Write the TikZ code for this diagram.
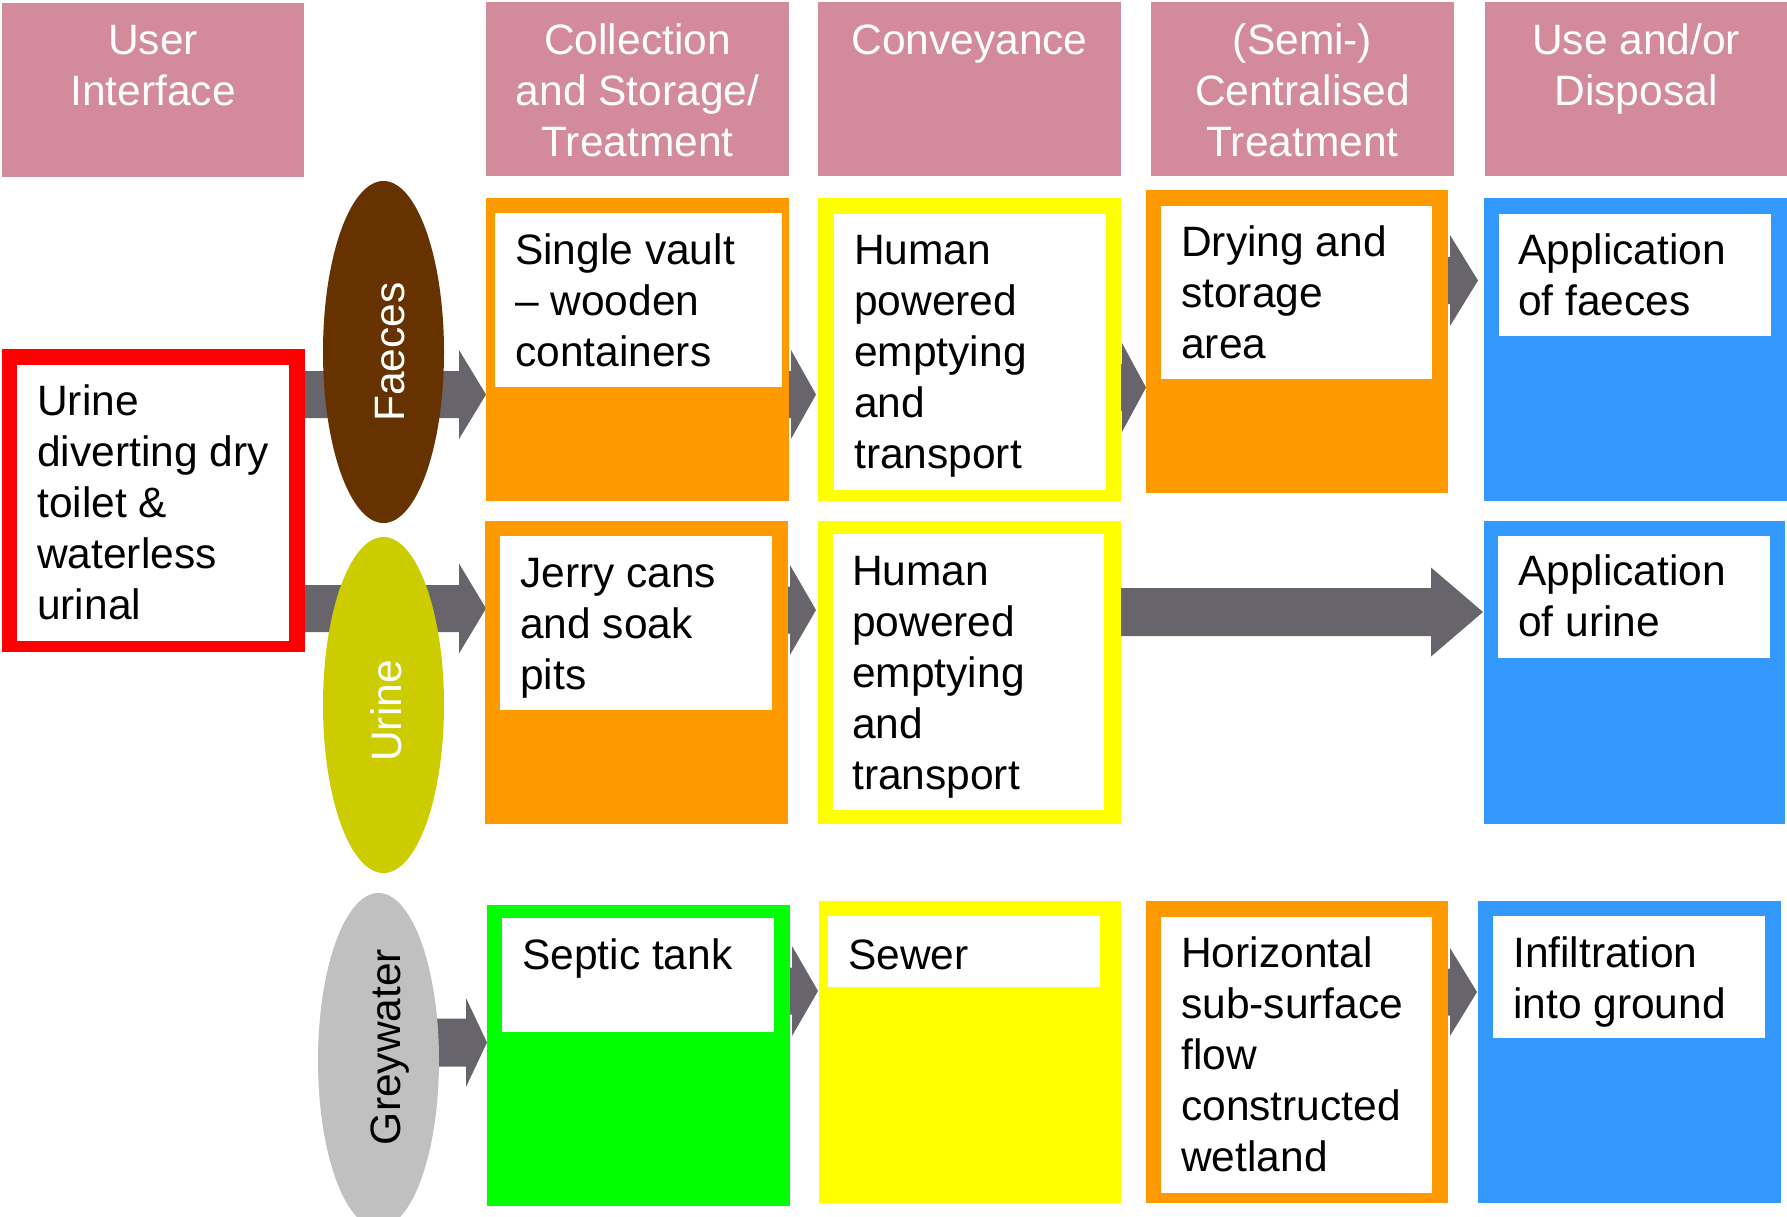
\documentclass[tikz,border=0pt]{standalone}
\usepackage{fontspec}
\setmainfont{Liberation Sans}
\usetikzlibrary{shapes.geometric}
\definecolor{hdrpink}{RGB}{211,138,155}
\definecolor{boxorange}{RGB}{255,153,0}
\definecolor{boxyellow}{RGB}{255,255,0}
\definecolor{boxblue}{RGB}{51,153,255}
\definecolor{boxgreen}{RGB}{0,255,0}
\definecolor{boxred}{RGB}{255,0,0}
\definecolor{faecesbrown}{RGB}{102,51,0}
\definecolor{urineolive}{RGB}{204,204,0}
\definecolor{greyell}{RGB}{192,192,192}
\definecolor{arrowgrey}{RGB}{103,101,107}
\newcommand\topstrut{\rule{0pt}{35pt}}
% #1 name, #2 colour, #3 x1, #4 y1, #5 x2, #6 y2
\newcommand\boxnode[6]{\node[boxbase, fill=#2, minimum width={(#5)-(#3)}, minimum height={(#6)-(#4)}] (#1) at ({((#3)+(#5))/2},{((#4)+(#6))/2}) {};}
% #1 shaft start, #2 head base, #3 tip, #4 centre y, #5 shaft half, #6 head half
\newcommand\blockarrow[6]{\fill[arrowgrey] ({#1},{#4-#5}) -- ({#2},{#4-#5}) -- ({#2},{#4-#6}) -- ({#3},{#4}) -- ({#2},{#4+#6}) -- ({#2},{#4+#5}) -- ({#1},{#4+#5}) -- cycle;}
\begin{document}
\begin{tikzpicture}[x=1pt,y=-1pt,
  boxbase/.style={rectangle,inner sep=0pt,outer sep=0pt,draw=none},
  hdrtext/.style={text=white,align=center,anchor=north,inner sep=0pt,font=\fontsize{42.5}{51}\selectfont},
  bodytext/.style={text=black,align=left,anchor=north west,inner sep=0pt,font=\fontsize{42.5}{51}\selectfont},
  elltext/.style={rotate=90,anchor=base,inner sep=0pt,font=\fontsize{42.5}{51}\selectfont},
  flow/.style={ellipse,inner sep=0pt,outer sep=0pt,draw=none}]
\useasboundingbox (0,0) rectangle (1787,1216);
% headers
\boxnode{hUI}{hdrpink}{2}{3}{304}{177}
\boxnode{hCol}{hdrpink}{486}{2}{789}{176}
\boxnode{hConv}{hdrpink}{818}{2}{1121}{176}
\boxnode{hSemi}{hdrpink}{1151}{2}{1454}{176}
\boxnode{hUse}{hdrpink}{1485}{2}{1787}{176}
\node[hdrtext] (tUI) at (153,19) {\topstrut User\\Interface};
\node[hdrtext] (tCol) at (637.5,19) {\topstrut Collection\\and Storage/\\Treatment};
\node[hdrtext] (tConv) at (969.5,19) {\topstrut Conveyance};
\node[hdrtext] (tSemi) at (1302.5,19) {\topstrut (Semi-)\\Centralised\\Treatment};
\node[hdrtext] (tUse) at (1636,19) {\topstrut Use and/or\\Disposal};
% arrows
\blockarrow{300}{459}{486}{394.5}{23.5}{44.5}
\blockarrow{300}{459}{486}{608.5}{23.5}{45}
\blockarrow{780}{791}{816}{394.5}{23.5}{44.5}
\blockarrow{1110}{1122}{1146}{387.5}{23.5}{44.5}
\blockarrow{1440}{1450}{1478}{280.5}{23.5}{45.5}
\blockarrow{780}{790}{816}{610}{23.5}{45}
\blockarrow{1115}{1431}{1483}{612}{24}{44.5}
\blockarrow{430}{466}{487}{1042.5}{24}{44.5}
\blockarrow{785}{792}{818}{991}{23.5}{45}
\blockarrow{1440}{1450}{1477}{992}{23.5}{44}
% flow ellipses
\node[flow, fill=faecesbrown, minimum width=121, minimum height=342] (eFae) at (383.5,352) {};
\node[flow, fill=urineolive, minimum width=121, minimum height=336] (eUri) at (383.5,705) {};
\node[flow, fill=greyell, minimum width=121, minimum height=335] (eGrey) at (378.5,1060.5) {};
\node[elltext, text=white] (lFae) at (404,352) {Faeces};
\node[elltext, text=white] (lUri) at (401,711) {Urine};
\node[elltext, text=black] (lGrey) at (400,1047) {Greywater};
% user interface
\boxnode{bUI}{boxred}{2}{349}{305}{652}
\boxnode{wUI}{white}{17}{365}{289}{641}
\node[bodytext] (xUI) at (37,380) {\topstrut Urine\\diverting dry\\toilet \&\\waterless\\urinal};
% faeces row
\boxnode{bSV}{boxorange}{486}{198}{789}{501}
\boxnode{wSV}{white}{495}{213}{782}{387}
\node[bodytext] (xSV) at (515,229) {\topstrut Single vault\\– wooden\\containers};
\boxnode{bHP}{boxyellow}{818}{198}{1121}{501}
\boxnode{wHP}{white}{834}{214}{1106}{490}
\node[bodytext] (xHP) at (854,229) {\topstrut Human\\powered\\emptying\\and\\transport};
\boxnode{bDry}{boxorange}{1146}{190}{1448}{493}
\boxnode{wDry}{white}{1161}{206}{1432}{379}
\node[bodytext] (xDry) at (1181,221) {\topstrut Drying and\\storage\\area};
\boxnode{bAF}{boxblue}{1484}{198}{1787}{501}
\boxnode{wAF}{white}{1499}{214}{1771}{336}
\node[bodytext] (xAF) at (1518,229) {\topstrut Application\\of faeces};
% urine row
\boxnode{bJC}{boxorange}{485}{521}{788}{824}
\boxnode{wJC}{white}{500}{536}{772}{710}
\node[bodytext] (xJC) at (520,552) {\topstrut Jerry cans\\and soak\\pits};
\boxnode{bHP2}{boxyellow}{818}{521}{1121}{824}
\boxnode{wHP2}{white}{833}{534}{1104}{810}
\node[bodytext] (xHP2) at (852,550) {\topstrut Human\\powered\\emptying\\and\\transport};
\boxnode{bAU}{boxblue}{1484}{521}{1785}{824}
\boxnode{wAU}{white}{1498}{536}{1770}{658}
\node[bodytext] (xAU) at (1518,550) {\topstrut Application\\of urine};
% greywater row
\boxnode{bST}{boxgreen}{487}{905}{790}{1206}
\boxnode{wST}{white}{502}{918}{774}{1032}
\node[bodytext] (xST) at (522,934) {\topstrut Septic tank};
\boxnode{bSW}{boxyellow}{819}{901}{1121}{1203}
\boxnode{wSW}{white}{828}{916}{1100}{987}
\node[bodytext] (xSW) at (848,934) {\topstrut Sewer};
\boxnode{bHZ}{boxorange}{1146}{901}{1448}{1203}
\boxnode{wHZ}{white}{1161}{917}{1432}{1193}
\node[bodytext] (xHZ) at (1181,932) {\topstrut Horizontal\\sub-surface\\flow\\constructed\\wetland};
\boxnode{bIG}{boxblue}{1478}{901}{1781}{1203}
\boxnode{wIG}{white}{1493}{916}{1765}{1038}
\node[bodytext] (xIG) at (1513,932) {\topstrut Infiltration\\into ground};
\end{tikzpicture}
\end{document}
